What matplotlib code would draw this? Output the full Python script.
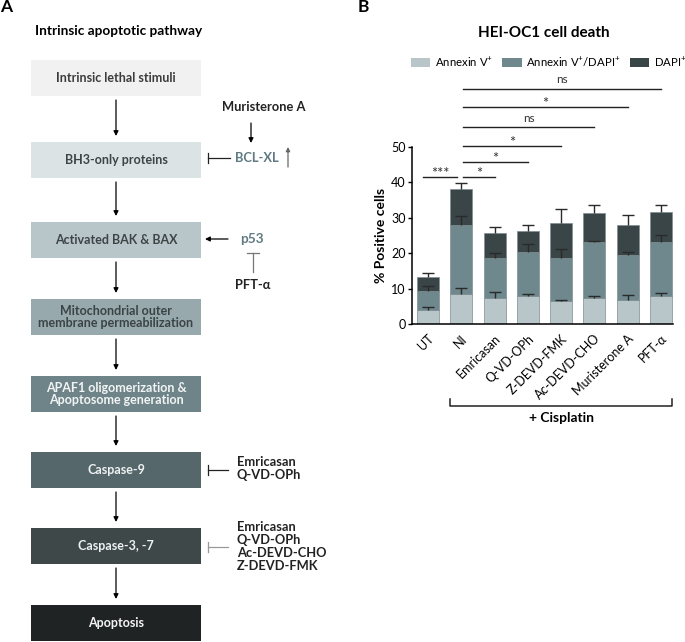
import matplotlib
matplotlib.use("Agg")
import matplotlib.pyplot as plt
import numpy as np
from matplotlib.patches import Rectangle, Patch

plt.rcParams['font.family'] = ['Lato', 'DejaVu Sans']
plt.rcParams['mathtext.fontset'] = 'custom'
plt.rcParams['mathtext.rm'] = 'Lato'
plt.rcParams['mathtext.it'] = 'Lato:italic'
plt.rcParams['mathtext.bf'] = 'Lato:bold'

# ---------------- data ----------------
categories = ['UT', 'NI', 'Emricasan', 'Q-VD-OPh', 'Z-DEVD-FMK', 'Ac-DEVD-CHO', 'Muristerone A', 'PFT-α']
annexin = [4.0, 8.5, 7.3, 7.8, 6.4, 7.3, 6.7, 7.8]
annexin_dapi = [5.2, 19.4, 11.4, 12.6, 12.3, 15.8, 12.7, 15.3]
dapi = [4.1, 10.1, 7.0, 5.8, 9.7, 8.2, 8.7, 8.5]
annexin_err = [0.7, 1.8, 1.6, 0.8, 0.3, 0.7, 1.5, 0.9]
annexin_dapi_err = [1.4, 2.7, 1.3, 2.3, 2.4, 0.4, 0.8, 1.9]
dapi_err = [1.2, 1.8, 1.8, 1.9, 4.1, 2.2, 2.7, 2.0]
series_names = ['Annexin V$^{+}$', 'Annexin V$^{+}$/DAPI$^{+}$', 'DAPI$^{+}$']
y_ticks = [0, 10, 20, 30, 40, 50]

# significance comparisons: (from index, to index, label)
comparisons = [(0, 1, '***'), (1, 2, '*'), (1, 3, '*'), (1, 4, '*'),
               (1, 5, 'ns'), (1, 6, '*'), (1, 7, 'ns')]
comp_levels = [41.4, 41.4, 45.8, 50.3, 55.6, 61.2, 66.5]

# flowchart contents
box_labels = ['Intrinsic lethal stimuli', 'BH3-only proteins', 'Activated BAK & BAX',
              'Mitochondrial outer\nmembrane permeabilization',
              'APAF1 oligomerization &\nApoptosome generation',
              'Caspase-9', 'Caspase-3, -7', 'Apoptosis']
box_colors = ['#f1f1f1', '#dce3e5', '#b9c6c9', '#98a9ad', '#6e8489', '#56676b', '#3e4849', '#1f2324']
box_text_colors = ['#3c3c3c', '#3c4446', '#3c4446', '#3a4446', '#f2f4f4', '#eef1f1', '#eef1f1', '#f4f4f4']
box_tops = [60, 142, 222, 299, 376, 452, 528, 605]
box_h = 36

# ---------------- figure ----------------
W, H = 685, 642
fig = plt.figure(figsize=(W / 100, H / 100), dpi=100)
ov = fig.add_axes([0, 0, 1, 1])
ov.set_xlim(0, W)
ov.set_ylim(H, 0)
ov.axis('off')

ov.text(6, 7, 'A', fontsize=12.5, fontweight='bold', ha='center', va='center')
ov.text(363, 7, 'B', fontsize=12.5, fontweight='bold', ha='center', va='center')
ov.text(119, 31, 'Intrinsic apoptotic pathway', fontsize=9.8, fontweight='bold', ha='center', va='center')

bx0, bx1 = 31, 201
cx = (bx0 + bx1) / 2
for lab, col, tcol, top in zip(box_labels, box_colors, box_text_colors, box_tops):
    ov.add_patch(Rectangle((bx0, top), bx1 - bx0, box_h, facecolor=col, edgecolor='none'))
    ov.text(cx, top + box_h / 2, lab, ha='center', va='center', fontsize=9,
            fontweight='bold', color=tcol, linespacing=1.0)

arrow_kw = dict(arrowstyle='-|>', mutation_scale=7, lw=0.9, color='black', shrinkA=0, shrinkB=0)
for t0, t1 in zip(box_tops[:-1], box_tops[1:]):
    ov.annotate('', xy=(cx, t1 - 6), xytext=(cx, t0 + box_h + 4), arrowprops=arrow_kw)

steel = '#5f7a82'
fs_r = 9.3
# Muristerone A -> BCL-XL
ov.text(264, 107, 'Muristerone A', fontsize=fs_r, fontweight='bold', ha='center', va='center', color='#222')
ov.annotate('', xy=(251, 143), xytext=(251, 123), arrowprops=arrow_kw)
ov.plot([208, 230], [158, 158], color='#222', lw=0.9)
ov.plot([208, 208], [153, 163], color='#222', lw=0.9)
ov.text(235, 158, 'BCL-XL', fontsize=fs_r, fontweight='bold', ha='left', va='center', color=steel)
ov.annotate('', xy=(288, 147), xytext=(288, 167),
            arrowprops=dict(arrowstyle='-|>', mutation_scale=6, lw=0.9, color='#666', shrinkA=0, shrinkB=0))
# p53
ov.annotate('', xy=(205, 239), xytext=(228, 239), arrowprops=arrow_kw)
ov.text(252, 239, 'p53', fontsize=fs_r + 0.5, fontweight='bold', ha='center', va='center', color=steel)
ov.plot([247, 259], [253, 253], color='#777', lw=0.9)
ov.plot([253, 253], [253, 272], color='#777', lw=0.9)
ov.text(253, 285, 'PFT-α', fontsize=fs_r, fontweight='bold', ha='center', va='center', color='#222')
# Caspase-9 inhibitors
ov.plot([208, 228], [470, 470], color='#222', lw=0.9)
ov.plot([208, 208], [465, 475], color='#222', lw=0.9)
ov.text(237, 468.5, 'Emricasan\nQ-VD-OPh', fontsize=fs_r, fontweight='bold', ha='left', va='center',
        color='#222', linespacing=1.1)
# Caspase-3 inhibitors
ov.plot([208, 228], [547, 547], color='#999', lw=0.9)
ov.plot([208, 208], [542, 552], color='#999', lw=0.9)
ov.text(237, 546.5, 'Emricasan\nQ-VD-OPh\nAc-DEVD-CHO\nZ-DEVD-FMK', fontsize=fs_r, fontweight='bold',
        ha='left', va='center', color='#222', linespacing=1.1)

# ---------------- bar chart ----------------
L, R, T, B = 412, 673, 147, 324
ax = fig.add_axes([L / W, 1 - B / H, (R - L) / W, (B - T) / H])
ax.set_facecolor('none')
x = np.arange(len(categories))
bw = 0.66
colors = ['#b9c6c9', '#6e888e', '#3a4548']
a = np.array(annexin); ad = np.array(annexin_dapi); d = np.array(dapi)
segs = [(a, np.zeros_like(a), np.array(annexin_err)),
        (ad, a, np.array(annexin_dapi_err)),
        (d, a + ad, np.array(dapi_err))]
for (vals, bottom, err), col in zip(segs, colors):
    ax.bar(x, vals, bw, bottom=bottom, color=col, edgecolor='#7f8e92', linewidth=0.5, zorder=2)
    top = bottom + vals
    ax.vlines(x, top, top + err, color='#2a2a2a', lw=1, zorder=3)
    ax.hlines(top + err, x - 0.18, x + 0.18, color='#2a2a2a', lw=1, zorder=3)

ax.set_xlim(-0.48, len(categories) - 1 + 0.36)
ax.set_ylim(0, 50)
ax.set_yticks(y_ticks)
ax.set_xticks(x)
ax.set_xticklabels(categories, rotation=45, ha='right', va='top', rotation_mode='anchor', fontsize=9)
ax.tick_params(axis='x', length=0, pad=6)
ax.tick_params(axis='y', length=3, width=1, labelsize=9, pad=1.5)
for s in ['top', 'right']:
    ax.spines[s].set_visible(False)
for s in ['left', 'bottom']:
    ax.spines[s].set_linewidth(1.1)
ax.set_ylabel('% Positive cells', fontsize=10, fontweight='bold', labelpad=3)

for (i0, i1, lab), lv in zip(comparisons, comp_levels):
    xa, xb = x[i0], x[i1]
    if i0 == 0:
        xa, xb = xa - 0.15, xb - 0.12
    else:
        xa = xa + 0.05
    ax.plot([xa, xb], [lv, lv], color='#222', lw=1, clip_on=False)
    if lab == 'ns':
        ax.text((xa + xb) / 2, lv + 1.0, lab, ha='center', va='bottom', fontsize=8.5,
                color='#333', clip_on=False)
    else:
        ax.text((xa + xb) / 2, lv + 0.9, lab, ha='center', va='center', fontsize=10.5,
                color='#333', clip_on=False)

# cisplatin bracket
trans = ax.get_xaxis_transform()
xl, xr = x[1] - bw / 2, x[-1] + bw / 2
yb = -(406 - B) / (B - T)
yt = -(399 - B) / (B - T)
ax.plot([xl, xl, xr, xr], [yt, yb, yb, yt], color='#222', lw=1.1, transform=trans, clip_on=False)
ax.text((xl + xr) / 2, -(418 - B) / (B - T), '+ Cisplatin', transform=trans, ha='center', va='center',
        fontsize=10, fontweight='bold')

fig.text(544 / W, 1 - 33 / H, 'HEI-OC1 cell death', ha='center', va='center', fontsize=11, fontweight='bold')
handles = [Patch(facecolor=c, edgecolor='none') for c in colors]
fig.legend(handles, series_names, loc='center left', bbox_to_anchor=(411 / W, 1 - 62 / H), ncol=3,
           frameon=False, fontsize=8.2, handlelength=1.7, handleheight=0.75, handletextpad=0.4,
           columnspacing=0.8, borderpad=0, borderaxespad=0)

fig.savefig('out.png', dpi=100)
